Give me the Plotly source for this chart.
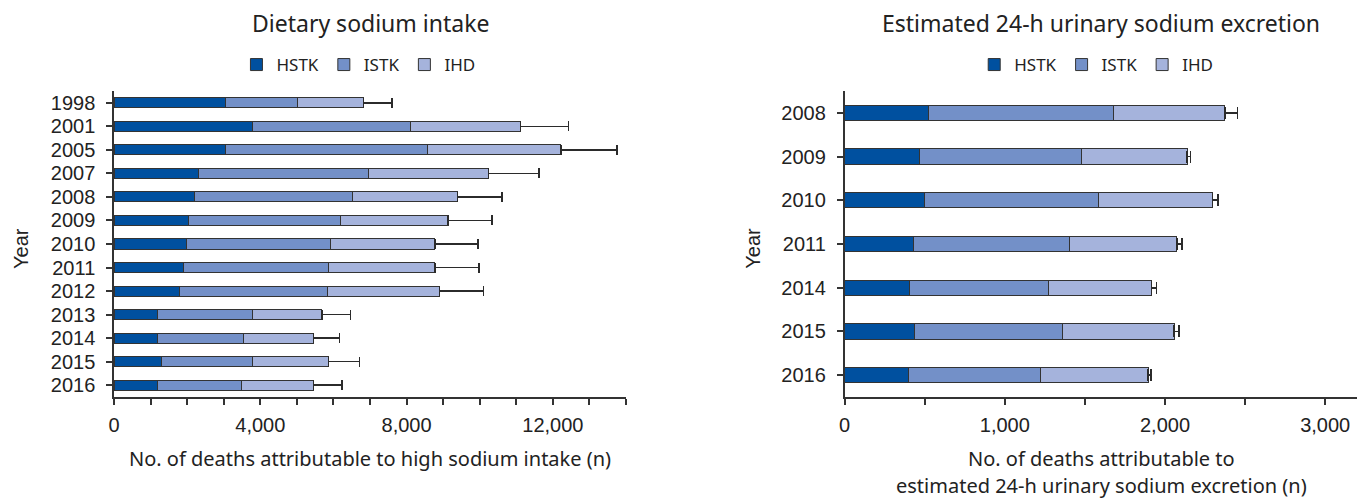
import plotly.graph_objects as go

# Deaths attributable to dietary sodium intake, by cause
diet_years = ["1998", "2001", "2005", "2007", "2008", "2009", "2010",
              "2011", "2012", "2013", "2014", "2015", "2016"]
diet_hstk = [3050, 3800, 3050, 2300, 2200, 2050, 1970, 1890, 1780, 1180, 1180, 1290, 1180]
diet_istk = [1970, 4310, 5510, 4660, 4330, 4130, 3960, 3970, 4060, 2620, 2350, 2510, 2300]
diet_ihd = [1800, 3010, 3660, 3280, 2860, 2960, 2840, 2910, 3060, 1880, 1930, 2060, 1980]
diet_err = [780, 1310, 1530, 1380, 1220, 1200, 1180, 1210, 1200, 790, 710, 850, 780]

# Deaths attributable to estimated 24-h urinary sodium excretion
urine_years = ["2008", "2009", "2010", "2011", "2014", "2015", "2016"]
urine_hstk = [526, 468, 500, 433, 404, 438, 399]
urine_istk = [1151, 1010, 1084, 973, 866, 923, 826]
urine_ihd = [696, 661, 712, 667, 646, 696, 670]
urine_err = [80, 19, 35, 32, 32, 30, 16]

causes = ["HSTK", "ISTK", "IHD"]
colors = ["#00509F", "#7390C8", "#A5B3DC"]
outline = dict(color="#333333", width=1)

W, H = 1370, 499
NUM_FAMILY = "Liberation Sans, Arial, sans-serif"
TEXT_FAMILY = "Noto Sans, Open Sans, sans-serif"
TICK_FONT = dict(family=NUM_FAMILY, size=20, color="#222222")

fig = go.Figure()

def add_panel(years, series, err, xref, yref, legend, width, cap):
    for i, (name, vals) in enumerate(zip(causes, series)):
        kw = {}
        if i == len(series) - 1:
            kw["error_x"] = dict(type="data", symmetric=False, array=err,
                                 arrayminus=[0] * len(err), color="#2b2b2b",
                                 thickness=1.6, width=cap)
        fig.add_trace(go.Bar(
            x=vals, y=years, orientation="h", name=name,
            marker=dict(color=colors[i], line=outline),
            width=width, xaxis=xref, yaxis=yref, legend=legend,
            hoverinfo="x+y+name", **kw))

add_panel(diet_years, [diet_hstk, diet_istk, diet_ihd], diet_err,
          "x", "y", "legend", 0.43, 5)
add_panel(urine_years, [urine_hstk, urine_istk, urine_ihd], urine_err,
          "x2", "y2", "legend2", 0.35, 6)

y_dom = [(H - 397) / H, (H - 91) / H]
left_dom = [108.5 / W, 622.7 / W]
right_dom = [842.3 / W, 1356.7 / W]

axis_common = dict(showline=True, linecolor="#333333", linewidth=1.5,
                   ticks="outside", ticklen=6, tickcolor="#333333", tickwidth=1.5,
                   showgrid=False, zeroline=False, tickfont=TICK_FONT)

legend_common = dict(orientation="h", traceorder="normal", yanchor="middle",
                     y=(H - 65) / H, xanchor="center",
                     font=dict(family=TEXT_FAMILY, size=17, color="#222222"),
                     itemclick=False, itemdoubleclick=False)

year_axis = dict(autorange="reversed", type="category", tickmode="linear",
                 tick0=0, dtick=1, ticklabelstandoff=7, **axis_common)

fig.update_layout(
    width=W, height=H, margin=dict(l=0, r=0, t=0, b=0),
    paper_bgcolor="white", plot_bgcolor="white",
    barmode="stack",
    xaxis=dict(domain=left_dom, anchor="y", range=[0, 14000], dtick=4000,
               tickformat=",d", ticklabelstandoff=3,
               minor=dict(dtick=1000, ticks="outside", ticklen=6,
                          tickcolor="#333333", tickwidth=1.5),
               **axis_common),
    yaxis=dict(domain=y_dom, anchor="x", **year_axis),
    xaxis2=dict(domain=right_dom, anchor="y2", range=[0, 3197], dtick=1000,
                tickformat=",d", ticklabelstandoff=3,
                minor=dict(dtick=500, ticks="outside", ticklen=6,
                           tickcolor="#333333", tickwidth=1.5),
                **axis_common),
    yaxis2=dict(domain=y_dom, anchor="x2", **year_axis),
    legend=dict(x=354 / W, **legend_common),
    legend2=dict(x=1095 / W, **legend_common),
    showlegend=True,
)

def label(text, x, y, size, angle=0, family=TEXT_FAMILY):
    fig.add_annotation(text=text, x=x / W, y=(H - y) / H, xref="paper", yref="paper",
                       showarrow=False, textangle=angle, xanchor="center",
                       yanchor="middle",
                       font=dict(family=family, size=size, color="#222222"))

label("Dietary sodium intake", 366, 23, 23)
label("Estimated 24-h urinary sodium excretion", 1100, 23, 23)
label("No. of deaths attributable to high sodium intake (n)", 366, 458, 20)
label("No. of deaths attributable to", 1100, 458, 20)
label("estimated 24-h urinary sodium excretion (n)", 1100, 485, 20)
label("Year", 15, 248, 20, angle=-90, family=NUM_FAMILY)
label("Year", 750, 248, 20, angle=-90, family=NUM_FAMILY)

fig.write_html("out.html")
